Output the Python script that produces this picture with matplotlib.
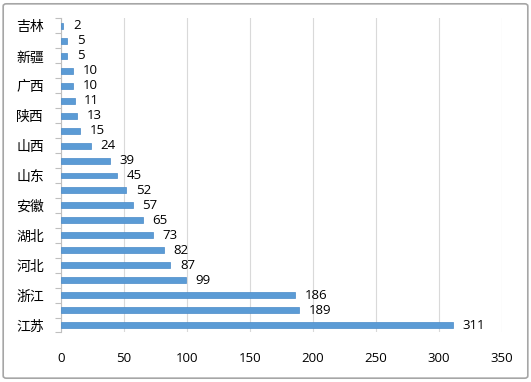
import matplotlib
matplotlib.use("Agg")
import matplotlib.pyplot as plt
from matplotlib.patches import FancyBboxPatch
from matplotlib.ticker import FixedLocator

plt.rcParams['font.family'] = ['Noto Sans CJK SC', 'DejaVu Sans']

# provinces, top to bottom (only every other name shows on the axis)
provinces = ['吉林', '内蒙古', '新疆', '贵州', '广西', '云南', '陕西', '江西', '山西', '天津',
             '山东', '重庆', '安徽', '四川', '湖北', '福建', '河北', '上海', '浙江', '广东', '江苏']
counts = [2, 5, 5, 10, 10, 11, 13, 15, 24, 39, 45, 52, 57, 65, 73, 82, 87, 99, 186, 189, 311]
xticks = [0, 50, 100, 150, 200, 250, 300, 350]

fig = plt.figure(figsize=(5.31, 3.82), dpi=100)
ax = fig.add_axes([0.1143, 0.1296, 0.8311, 0.822])

pos = list(range(len(provinces)))
bars = ax.barh(pos, counts, height=0.4, color='#5B9BD5', edgecolor='#4A8AC8', linewidth=0.5, zorder=3)
ax.bar_label(bars, labels=[str(c) for c in counts], padding=7,
             fontsize=9.5, family=['Open Sans', 'DejaVu Sans'], color='black')

ax.set_xlim(0, 350)
ax.set_ylim(len(provinces) - 0.5, -0.5)
ax.set_xticks(xticks)
ax.set_xticklabels([str(t) for t in xticks], family=['Open Sans', 'DejaVu Sans'], fontsize=9.5)
ax.tick_params(axis='x', length=0, pad=14)

ax.set_yticks(pos[::2])
ax.set_yticklabels(provinces[::2], fontsize=10)
ax.tick_params(axis='y', which='major', length=0, pad=12)
ax.yaxis.set_minor_locator(FixedLocator([p - 0.5 for p in range(len(provinces) + 1)]))
ax.tick_params(axis='y', which='minor', length=4, color='#BFBFBF', width=0.8)

ax.grid(axis='x', color='#D9D9D9', linewidth=0.8, zorder=0)
for side in ['top', 'right', 'bottom']:
    ax.spines[side].set_visible(False)
ax.spines['left'].set_color('#BFBFBF')
ax.spines['left'].set_linewidth(0.8)

# outer chart frame
frame = FancyBboxPatch((0.006, 0.01), 0.988, 0.98, boxstyle='round,pad=0,rounding_size=0.006',
                       transform=fig.transFigure, fill=False, edgecolor='#A6A6A6', linewidth=1.2)
fig.patches.append(frame)

fig.savefig('out.png', dpi=100)
